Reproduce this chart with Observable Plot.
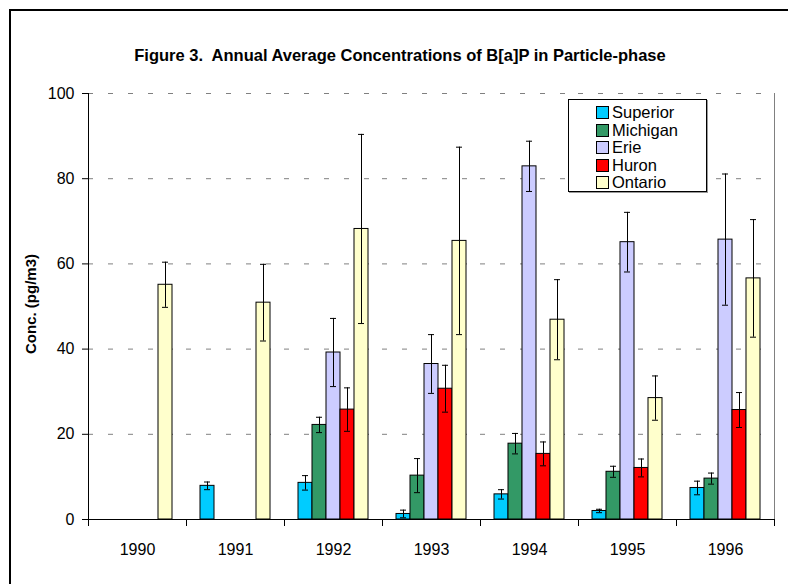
<!DOCTYPE html>
<html>
<head>
<meta charset="utf-8">
<script src="https://cdn.jsdelivr.net/npm/d3@7"></script>
<script src="https://cdn.jsdelivr.net/npm/@observablehq/plot@0.6"></script>
<style>
  html, body { margin: 0; padding: 0; background: #fff; overflow: hidden; }
  #wrap { position: relative; width: 788px; height: 584px; font-family: "Liberation Sans", Arial, sans-serif; }
  #border { position: absolute; left: 9px; top: 9px; width: 820px; height: 620px; border: 2px solid #000; box-sizing: border-box; }
  #title { position: absolute; left: 0; top: 46px; width: 800px; text-align: center; font-weight: bold; font-size: 16.5px; line-height: 18px; color: #000; }
  #ylabel { position: absolute; left: 30px; top: 304px; transform: translate(-50%, -50%) rotate(-90deg); white-space: nowrap; font-weight: bold; font-size: 15px; color: #000; }
  #legend { position: absolute; left: 568px; top: 99px; width: 139px; height: 93px; box-sizing: border-box; border: 1px solid #000; background: #fff; box-shadow: 1px 1px 0 #999; }
  .item { position: absolute; left: 27px; height: 18px; display: flex; align-items: center; font-size: 16.5px; color: #000; }
  .sw { width: 11px; height: 11px; border: 1px solid #000; margin-right: 3px; }
  svg { position: absolute; left: 0; top: 0; }
</style>
</head>
<body>
<div id="wrap">
  <div id="border"></div>
</div>
<script>
const years = ["1990", "1991", "1992", "1993", "1994", "1995", "1996"];
const lakes = ["Superior", "Michigan", "Erie", "Huron", "Ontario"];
const colors = ["#00CCFF", "#339966", "#CCCCFF", "#FF0000", "#FFFFCC"];
const yTicks = [0, 20, 40, 60, 80, 100];

// annual averages (pg/m3), null = no data
const superior = [null, 7.9, 8.6, 1.3, 5.9, 2.0, 7.4];
const michigan = [null, null, 22.2, 10.3, 17.8, 11.2, 9.6];
const erie     = [null, null, 39.2, 36.5, 82.9, 65.1, 65.7];
const huron    = [null, null, 25.8, 30.7, 15.4, 12.1, 25.7];
const ontario  = [55.1, 50.9, 68.2, 65.4, 46.9, 28.5, 56.6];

// error bar half-widths
const superiorErr = [null, 0.9, 1.7, 0.9, 1.1, 0.4, 1.6];
const michiganErr = [null, null, 1.8, 4.0, 2.4, 1.3, 1.3];
const erieErr     = [null, null, 8.0, 6.9, 5.9, 7.0, 15.4];
const huronErr    = [null, null, 5.1, 5.5, 2.8, 2.1, 4.1];
const ontarioErr  = [5.3, 9.0, 22.2, 22.0, 9.4, 5.2, 13.8];

const values = [superior, michigan, erie, huron, ontario];
const errors = [superiorErr, michiganErr, erieErr, huronErr, ontarioErr];

const rows = [];
years.forEach((year, i) => {
  lakes.forEach((lake, j) => {
    const v = values[j][i];
    if (v != null) rows.push({year, lake, value: v, err: errors[j][i]});
  });
});

const W = 788, H = 584;
const mL = 86, mR = 13, mT = 93, mB = 65;
const plotH = H - mT - mB;

const chart = Plot.plot({
  width: W,
  height: H,
  marginLeft: mL,
  marginRight: mR,
  marginTop: mT,
  marginBottom: mB,
  style: {fontFamily: "Liberation Sans, Arial, sans-serif", fontSize: "16px", color: "#000", background: "transparent"},
  fx: {domain: years, padding: 0, label: null},
  x: {domain: lakes, paddingInner: 0, paddingOuter: 0.78, axis: null},
  y: {domain: [0, 100], label: null},
  color: {domain: lakes, range: colors},
  marks: [
    Plot.gridY(yTicks, {stroke: "#808080", strokeOpacity: 1, strokeDasharray: "5,15"}),
    Plot.frame({anchor: "right", facet: "super", stroke: "#808080"}),
    Plot.barY(rows, {fx: "year", x: "lake", y: "value", fill: "lake", stroke: "#000", strokeWidth: 1}),
    Plot.ruleX(rows, {fx: "year", x: "lake", y1: d => d.value - d.err, y2: d => d.value + d.err, stroke: "#000", strokeWidth: 1}),
    Plot.tickY(rows, {fx: "year", x: "lake", y: d => d.value + d.err, stroke: "#000", insetLeft: 4, insetRight: 4}),
    Plot.tickY(rows, {fx: "year", x: "lake", y: d => d.value - d.err, stroke: "#000", insetLeft: 4, insetRight: 4}),
    Plot.frame({anchor: "left", insetTop: plotH, insetBottom: -6, stroke: "#000"}),
    Plot.frame({anchor: "right", insetTop: plotH, insetBottom: -6, stroke: "#000"}),
    Plot.frame({anchor: "left", facet: "super", stroke: "#000"}),
    Plot.frame({anchor: "bottom", facet: "super", stroke: "#000"}),
    Plot.axisY(yTicks, {tickSize: 6, tickPadding: 8, label: null, stroke: "#000", fontSize: 16}),
    Plot.axisFx({anchor: "bottom", tickSize: 0, tickPadding: 24, label: null, fontSize: 16})
  ]
});

const wrap = document.getElementById("wrap");
wrap.appendChild(chart);

const title = document.createElement("div");
title.id = "title";
title.textContent = "Figure 3.  Annual Average Concentrations of B[a]P in Particle-phase";
title.style.whiteSpace = "pre";
wrap.appendChild(title);

const ylab = document.createElement("div");
ylab.id = "ylabel";
ylab.textContent = "Conc. (pg/m3)";
wrap.appendChild(ylab);

const legend = document.createElement("div");
legend.id = "legend";
lakes.forEach((lake, j) => {
  const it = document.createElement("div");
  it.className = "item";
  it.style.top = (3.5 + j * 17.5) + "px";
  const sw = document.createElement("div");
  sw.className = "sw";
  sw.style.background = colors[j];
  const t = document.createElement("span");
  t.textContent = lake;
  it.appendChild(sw);
  it.appendChild(t);
  legend.appendChild(it);
});
wrap.appendChild(legend);
</script>
</body>
</html>
